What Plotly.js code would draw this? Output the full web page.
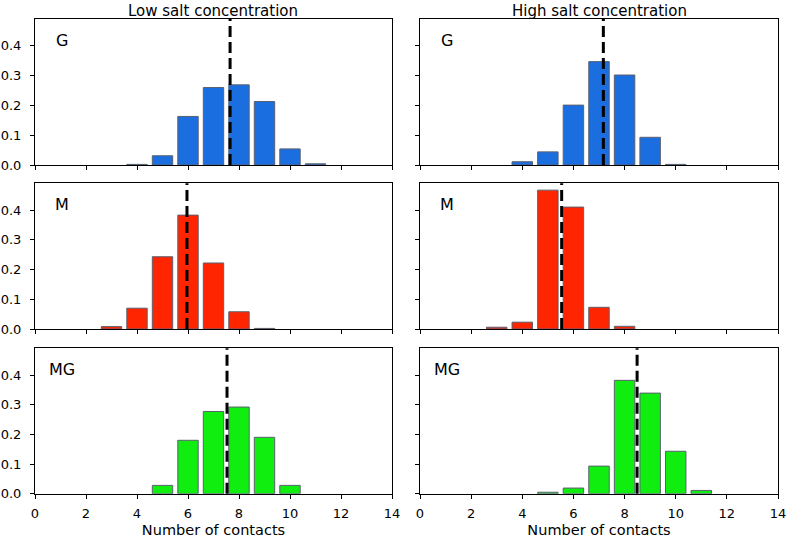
<!DOCTYPE html>
<html>
<head>
<meta charset="utf-8">
<script src="https://cdn.plot.ly/plotly-3.0.1.min.js"></script>
<style>html,body{margin:0;padding:0;background:#fff}#chart{width:787px;height:538px}</style>
</head>
<body>
<div id="chart"></div>
<script>
// Data
const contacts = [3, 4, 5, 6, 7, 8, 9, 10, 11];
const lowG   = [null, 0.002, 0.031, 0.163, 0.260, 0.269, 0.213, 0.054, 0.004];
const highG  = [null, 0.011, 0.044, 0.201, 0.347, 0.302, 0.093, 0.002, null];
const lowM   = [0.008, 0.070, 0.243, 0.383, 0.222, 0.058, 0.002, null, null];
const highM  = [0.006, 0.023, 0.467, 0.410, 0.073, 0.009, null, null, null];
const lowMG  = [null, null, 0.028, 0.180, 0.277, 0.292, 0.190, 0.028, null];
const highMG = [null, null, 0.005, 0.019, 0.093, 0.382, 0.339, 0.143, 0.011];
const means = {lowG: 7.65, highG: 7.17, lowM: 5.96, highM: 5.54, lowMG: 7.53, highMG: 8.49};
const panelLabels = ["G", "M", "MG"];
const columnTitles = ["Low salt concentration", "High salt concentration"];
const xTicks = [0, 2, 4, 6, 8, 10, 12, 14];
const yTicks = [0.0, 0.1, 0.2, 0.3, 0.4];
const yTickText = ["0.0", "0.1", "0.2", "0.3", "0.4"];

const colors = ["#1a6ee0", "#ff2500", "#10ee10"];
const series = [[lowG, highG], [lowM, highM], [lowMG, highMG]];
const meanKeys = [["lowG", "highG"], ["lowM", "highM"], ["lowMG", "highMG"]];

const colDomains = [[35/787, 392/787], [420/787, 778/787]];
const rowPx = [[19, 165], [183.3, 329], [348.3, 493.7]];
const rowDomains = rowPx.map(r => [1 - r[1]/538, 1 - r[0]/538]);

const font = "DejaVu Sans, sans-serif";
const traces = [];
const layout = {
  width: 787, height: 538,
  margin: {l: 0, r: 0, t: 0, b: 0},
  paper_bgcolor: "#fff", plot_bgcolor: "#fff",
  showlegend: false,
  bargap: 0.2,
  font: {family: font, size: 13, color: "#000"},
  shapes: [], annotations: []
};

let idx = 0;
for (let r = 0; r < 3; r++) {
  for (let c = 0; c < 2; c++) {
    idx++;
    const xa = idx === 1 ? "x" : "x" + idx;
    const ya = idx === 1 ? "y" : "y" + idx;
    traces.push({
      type: "bar", x: contacts, y: series[r][c], xaxis: xa, yaxis: ya,
      width: 0.8,
      marker: {color: colors[r], line: {color: "#5a6070", width: 1}},
      hoverinfo: "x+y"
    });
    const xName = idx === 1 ? "xaxis" : "xaxis" + idx;
    const yName = idx === 1 ? "yaxis" : "yaxis" + idx;
    layout[xName] = {
      domain: colDomains[c], anchor: ya, range: [0, 14],
      tickvals: xTicks, ticktext: xTicks.map(String), showticklabels: r === 2,
      ticks: "outside", ticklen: 4, tickwidth: 1, tickcolor: "#000",
      ticklabelstandoff: 4,
      showline: true, linecolor: "#000", linewidth: 1, mirror: true,
      showgrid: false, zeroline: false,
      tickfont: {family: font, size: 13, color: "#000"},
      title: r === 2 ? {text: "Number of contacts", font: {family: font, size: 14.5, color: "#000"}, standoff: 6} : {text: ""}
    };
    layout[yName] = {
      domain: rowDomains[r], anchor: xa, range: [0, 0.49],
      tickvals: yTicks, ticktext: yTickText, showticklabels: c === 0,
      ticks: "outside", ticklen: 4, tickwidth: 1, tickcolor: "#000",
      ticklabelstandoff: 6,
      showline: true, linecolor: "#000", linewidth: 1, mirror: true,
      showgrid: false, zeroline: false,
      tickfont: {family: font, size: 13, color: "#000"}
    };
    layout.shapes.push({
      type: "line", xref: xa, yref: ya + " domain",
      x0: means[meanKeys[r][c]], x1: means[meanKeys[r][c]], y0: 0, y1: 1,
      line: {color: "#000", width: 3, dash: "11px,5px"}
    });
    layout.annotations.push({
      xref: xa + " domain", yref: ya + " domain", x: 0.075, y: 0.853,
      xanchor: "center", yanchor: "middle", showarrow: false,
      text: panelLabels[r], font: {family: font, size: 16, color: "#000"}
    });
  }
}
for (let c = 0; c < 2; c++) {
  layout.annotations.push({
    xref: "paper", yref: "paper",
    x: (colDomains[c][0] + colDomains[c][1]) / 2, y: 1,
    xanchor: "center", yanchor: "top", showarrow: false,
    text: columnTitles[c], font: {family: font, size: 15, color: "#000"}
  });
}

Plotly.newPlot("chart", traces, layout, {displayModeBar: false, staticPlot: true});
</script>
</body>
</html>
